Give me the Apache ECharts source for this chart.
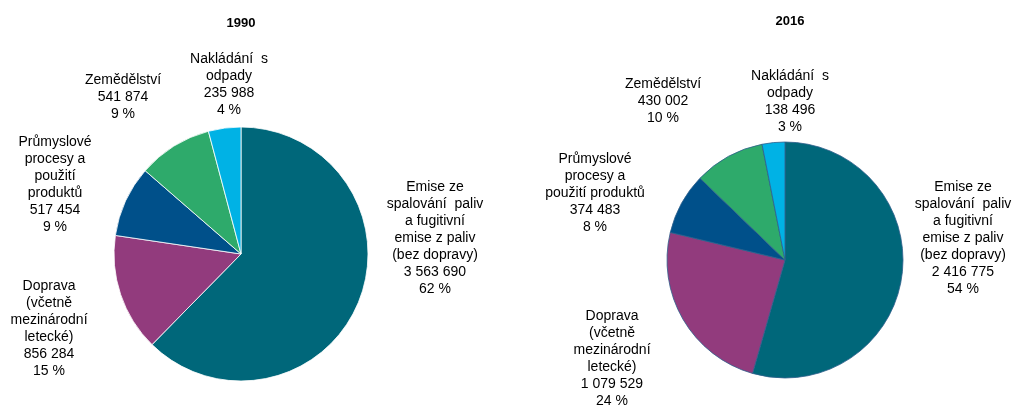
<!DOCTYPE html>
<html>
<head>
<meta charset="utf-8">
<script src="https://cdn.jsdelivr.net/npm/echarts@6/dist/echarts.min.js"></script>
<style>
  html, body { margin: 0; padding: 0; background: #fff; }
  #chart { width: 1014px; height: 406px; }
</style>
</head>
<body>
<div id="chart"></div>
<script>
// categories (label text as printed, with line breaks)
const labels1990 = [
  'Emise ze\nspalování  paliv\na fugitivní\nemise z paliv\n(bez dopravy)',
  'Doprava\n(včetně\nmezinárodní\nletecké)',
  'Průmyslové\nprocesy a\npoužití\nproduktů',
  'Zemědělství',
  'Nakládání  s\nodpady'
]
const labels2016 = [
  'Emise ze\nspalování  paliv\na fugitivní\nemise z paliv\n(bez dopravy)',
  'Doprava\n(včetně\nmezinárodní\nletecké)',
  'Průmyslové\nprocesy a\npoužití produktů',
  'Zemědělství',
  'Nakládání  s\nodpady'
]
const values1990 = [3563690, 856284, 517454, 541874, 235988]
const values2016 = [2416775, 1079529, 374483, 430002, 138496]
const colors = ['#00677a', '#923b7d', '#00508a', '#2eaa6b', '#00b2e5']

// label anchor points (layout only)
const labelPos1990 = [[435, 238], [49, 329], [55, 185], [123, 97], [229, 85]]
const labelPos2016 = [[963, 238], [612, 359], [595, 193], [663, 101], [790, 102]]

function fmt(v) {
  return String(v).replace(/\B(?=(\d{3})+(?!\d))/g, ' ')
}

function makeData(labels, values) {
  return labels.map((name, i) => ({
    name: name,
    value: values[i],
    itemStyle: { color: colors[i] }
  }))
}

function pieSeries(labels, values, center, radius, pos, border) {
  const total = values.reduce((a, b) => a + b, 0)
  return {
    type: 'pie',
    center: center,
    radius: radius,
    startAngle: 90,
    clockwise: true,
    silent: true,
    itemStyle: { borderColor: border, borderWidth: 0.8 },
    label: {
      show: true,
      position: 'outside',
      overflow: 'none',
      formatter: (p) => p.name + '\n' + fmt(p.value) + '\n' + Math.round(p.value / total * 100) + ' %',
      fontFamily: 'Liberation Sans, Arial, sans-serif',
      fontSize: 14,
      lineHeight: 17,
      color: '#000',
      align: 'center'
    },
    labelLine: { show: false },
    labelLayout: (p) => ({
      x: pos[p.dataIndex][0],
      y: pos[p.dataIndex][1],
      align: 'center',
      verticalAlign: 'middle'
    }),
    data: makeData(labels, values)
  }
}

const chart = echarts.init(document.getElementById('chart'))
chart.setOption({
  animation: false,
  title: [
    {
      text: '1990', left: 236, top: 12, textAlign: 'center',
      textStyle: { fontFamily: 'Liberation Sans, Arial, sans-serif', fontSize: 13, fontWeight: 'bold', color: '#000' }
    },
    {
      text: '2016', left: 785, top: 10, textAlign: 'center',
      textStyle: { fontFamily: 'Liberation Sans, Arial, sans-serif', fontSize: 13, fontWeight: 'bold', color: '#000' }
    }
  ],
  series: [
    pieSeries(labels1990, values1990, [241, 254], 127, labelPos1990, '#ffffff'),
    pieSeries(labels2016, values2016, [785, 260], 118, labelPos2016, '#2f5f8c')
  ]
})
</script>
</body>
</html>
